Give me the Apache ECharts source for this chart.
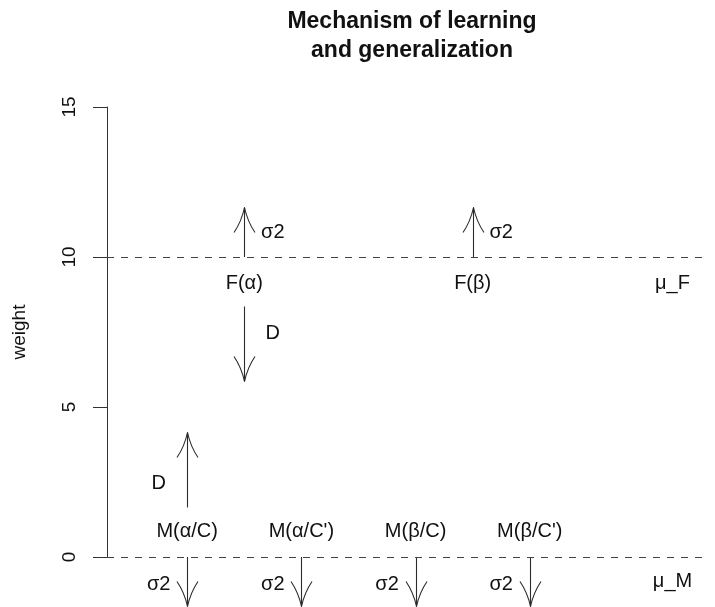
<!DOCTYPE html>
<html>
<head>
<meta charset="utf-8">
<script src="https://cdn.jsdelivr.net/npm/echarts@6/dist/echarts.min.js"></script>
<style>html,body{margin:0;padding:0;background:#fff}#c{width:715px;height:607px}</style>
</head>
<body>
<div id="c"></div>
<script>
// ---- data ----
const titleLines = ['Mechanism of learning', 'and generalization'];
const yTicks = [0, 5, 10, 15];
const yName = 'weight';
const hLines = [0, 10];                       // dashed reference levels (μ_M, μ_F)

// text labels: text, x, y
const labelText = ['M(α/C)', "M(α/C')", 'M(β/C)', "M(β/C')", 'F(α)', 'F(β)', 'μ_F', 'μ_M',
                   'D', 'D', 'σ2', 'σ2', 'σ2', 'σ2', 'σ2', 'σ2'];
const labelX = [1, 2, 3, 4, 1.5, 3.5, 5.25, 5.25,
                0.75, 1.75, 1.75, 3.75, 0.75, 1.75, 2.75, 3.75];
const labelY = [0.85, 0.85, 0.85, 0.85, 9.12, 9.12, 9.12, -0.8,
                2.45, 7.45, 10.82, 10.82, -0.9, -0.9, -0.9, -0.9];

// arrows: x, start y, tip y
const arrowX = [1, 1.5, 1.5, 3.5, 1, 2, 3, 4];
const arrowFrom = [1.65, 8.35, 10, 10, 0, 0, 0, 0];
const arrowTo = [4.15, 5.85, 11.65, 11.65, -1.65, -1.65, -1.65, -1.65];

// ---- chart ----
const FONT = 'Liberation Sans, Arial, Helvetica, sans-serif';
const chart = echarts.init(document.getElementById('c'));

const arrowData = arrowX.map((x, i) => [x, arrowFrom[i], arrowTo[i]]);
const labelData = labelX.map((x, i) => [x, labelY[i]]);

function renderArrow(params, api) {
  const p0 = api.coord([api.value(0), api.value(1)]);
  const p1 = api.coord([api.value(0), api.value(2)]);
  const dir = p1[1] < p0[1] ? -1 : 1;
  const x = Math.round(p1[0]) + 0.5;
  const stroke = '#2b2b2b';
  const L = 25, W = 10.5;
  const barb = s => ({
    type: 'bezierCurve',
    shape: { x1: x, y1: p1[1], cpx1: x + s * 3, cpy1: p1[1] - dir * 14, x2: x + s * W, y2: p1[1] - dir * L },
    style: { stroke: stroke, fill: 'none', lineWidth: 1.1 }
  });
  return {
    type: 'group',
    children: [
      { type: 'line', shape: { x1: x, y1: p0[1], x2: x, y2: p1[1] }, style: { stroke: stroke, lineWidth: 1.1 } },
      barb(-1), barb(1)
    ]
  };
}

function renderLabel(params, api) {
  const p = api.coord([api.value(0), api.value(1)]);
  return {
    type: 'text',
    x: p[0], y: p[1],
    style: {
      text: labelText[params.dataIndex],
      fontFamily: FONT, fontSize: 20, fill: '#111',
      align: 'center', verticalAlign: 'middle'
    }
  };
}

chart.setOption({
  animation: false,
  backgroundColor: '#fff',
  title: {
    text: titleLines.join('\n'),
    left: 407, top: 2, textAlign: 'center',
    textStyle: { fontFamily: FONT, fontWeight: 'bold', fontSize: 23, lineHeight: 29, color: '#111' }
  },
  grid: { left: 107, right: 8, top: 107, bottom: 50, containLabel: false },
  xAxis: {
    type: 'value', min: 0.298, max: 5.552, show: false
  },
  yAxis: {
    type: 'value', min: yTicks[0], max: yTicks[yTicks.length - 1], interval: 5,
    name: yName, nameLocation: 'middle', nameGap: 78,
    nameTextStyle: { fontFamily: FONT, fontSize: 19, color: '#111' },
    axisLine: { show: true, lineStyle: { color: '#333', width: 1 } },
    axisTick: { show: true, length: 14, lineStyle: { color: '#333', width: 1 } },
    axisLabel: { rotate: 90, margin: 28, fontFamily: FONT, fontSize: 19, color: '#111' },
    splitLine: { show: false }
  },
  series: [
    {
      type: 'custom', renderItem: renderArrow, data: arrowData, clip: false,
      encode: { x: 0, y: [1, 2] }, silent: true,
      markLine: {
        silent: true, symbol: 'none', label: { show: false },
        lineStyle: { type: [7, 7], color: '#444', width: 1 },
        data: hLines.map(v => ({ yAxis: v }))
      }
    },
    {
      type: 'custom', renderItem: renderLabel, data: labelData, clip: false,
      encode: { x: 0, y: 1 }, silent: true
    }
  ]
});
</script>
</body>
</html>
